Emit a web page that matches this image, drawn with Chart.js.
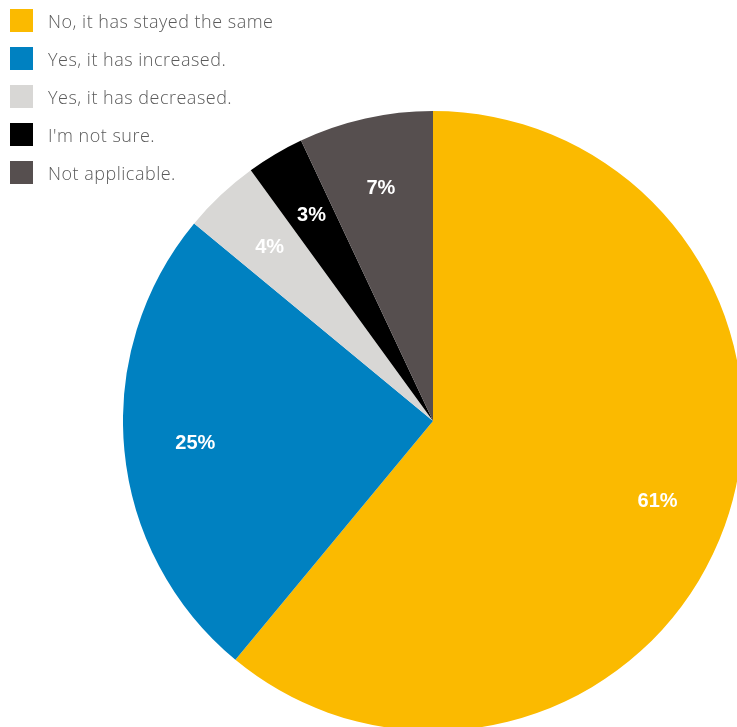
<!DOCTYPE html>
<html>
<head>
<meta charset="utf-8">
<script src="https://cdn.jsdelivr.net/npm/chart.js@4"></script>
<style>
  html, body { margin: 0; padding: 0; width: 737px; height: 727px; overflow: hidden; background: #fff; }
  #wrap { position: absolute; left: 123px; top: 111px; width: 620px; height: 620px; }
  #legend { position: absolute; left: 10px; top: 9px; font-family: "Open Sans", sans-serif; font-weight: 300; font-size: 18px; letter-spacing: 0.5px; color: #5a5a5a; }
  .item { display: flex; align-items: center; height: 23px; margin-bottom: 15px; }
  .box { width: 23px; height: 23px; margin-right: 15px; flex: none; }
</style>
</head>
<body>
<div id="wrap"><canvas id="c"></canvas></div>
<div id="legend"></div>
<script>
const categories = ["No, it has stayed the same", "Yes, it has increased.", "Yes, it has decreased.", "I'm not sure.", "Not applicable."];
const values = [61, 25, 4, 3, 7];
const valueLabels = ["61%", "25%", "4%", "3%", "7%"];
const colors = ["#FBBA00", "#0081C1", "#D8D7D5", "#000000", "#564F4F"];

const leg = document.getElementById('legend');
categories.forEach((c, i) => {
  const d = document.createElement('div'); d.className = 'item';
  const b = document.createElement('div'); b.className = 'box'; b.style.background = colors[i];
  const t = document.createElement('span'); t.textContent = c;
  d.appendChild(b); d.appendChild(t); leg.appendChild(d);
});

const labelPlugin = {
  id: 'sliceLabels',
  afterDatasetsDraw(chart) {
    const ctx = chart.ctx;
    const meta = chart.getDatasetMeta(0);
    ctx.save();
    ctx.fillStyle = '#fff';
    ctx.font = 'bold 20px "Liberation Sans", Arial, sans-serif';
    ctx.textAlign = 'center';
    ctx.textBaseline = 'middle';
    meta.data.forEach((arc, i) => {
      const p = arc.getProps(['x', 'y', 'startAngle', 'endAngle', 'outerRadius'], true);
      const mid = (p.startAngle + p.endAngle) / 2;
      const r = p.outerRadius * 0.77;
      ctx.fillText(valueLabels[i], p.x + Math.cos(mid) * r, p.y + Math.sin(mid) * r);
    });
    ctx.restore();
  }
};

new Chart(document.getElementById('c'), {
  type: 'pie',
  data: { labels: categories, datasets: [{ data: values, backgroundColor: colors, borderWidth: 0, hoverOffset: 0 }] },
  options: {
    responsive: true, maintainAspectRatio: false, animation: false, devicePixelRatio: 1,
    layout: { padding: 0 },
    plugins: { legend: { display: false }, tooltip: { enabled: false } }
  },
  plugins: [labelPlugin]
});
</script>
</body>
</html>
